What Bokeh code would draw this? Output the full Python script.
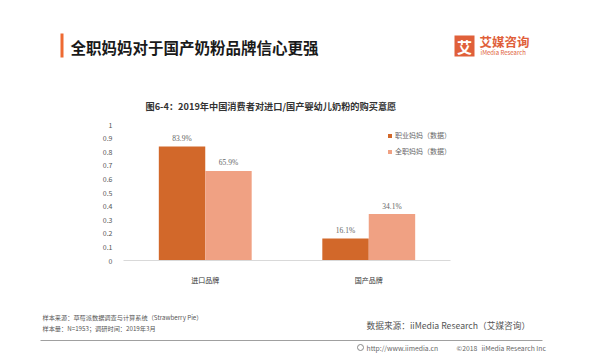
from bokeh.plotting import figure
from bokeh.models import (ColumnDataSource, Label, LabelSet, Legend, LegendItem,
                          Range1d, FixedTicker)
from bokeh.embed import file_html
from bokeh.resources import INLINE

# ---------------- data ----------------
categories = ["进口品牌", "国产品牌"]
series_names = ["职业妈妈（数据）", "全职妈妈（数据）"]
working_moms = [0.839, 0.161]
fulltime_moms = [0.659, 0.341]
y_ticks = [0, 0.1, 0.2, 0.3, 0.4, 0.5, 0.6, 0.7, 0.8, 0.9, 1]
y_tick_labels = ["0", "0.1", "0.2", "0.3", "0.4", "0.5", "0.6", "0.7", "0.8", "0.9", "1"]

title_text = "全职妈妈对于国产奶粉品牌信心更强"
chart_title = "图6-4：2019年中国消费者对进口/国产婴幼儿奶粉的购买意愿"
note1 = "样本来源：草莓派数据调查与计算系统（Strawberry  Pie）"
note2 = "样本量：N=1953；调研时间：2019年3月"
source_text = "数据来源：iiMedia Research（艾媒咨询）"
url_parts = ["http://www.iimedia.cn", "©2018", "iiMedia Research Inc"]

FONT = "Noto Sans CJK SC"
DARK = "#D2682A"
LIGHT = "#F0A183"
ORANGE = "#E0603A"

W = 584
H_HEAD, H_CHART, H_FOOT = 115, 175, 64
Y0_CHART = H_HEAD
Y0_FOOT = H_HEAD + H_CHART
FL, FR, FT, FB = 123, 450, 124, 260   # chart frame, in picture px


def deco_fig(height, y0):
    f = figure(width=W, height=height, x_range=Range1d(0, W),
               y_range=Range1d(y0 + height, y0), output_backend="svg",
               toolbar_location=None, x_axis_location=None, y_axis_location=None,
               min_border=0, min_border_left=0, min_border_right=0,
               min_border_top=0, min_border_bottom=0)
    f.outline_line_color = None
    f.grid.visible = False
    f.background_fill_color = "white"
    f.border_fill_color = "white"
    return f


def lab(f, text, x, y, size, color="#333333", bold=False, align="left"):
    f.add_layout(Label(x=x, y=y, text=text, text_font=FONT,
                       text_font_size=f"{size}px", text_color=color,
                       text_font_style="bold" if bold else "normal",
                       text_align=align, text_baseline="middle"))


# ---------------- header ----------------
head = deco_fig(H_HEAD, 0)
head.quad(left=[60], right=[63], top=[33], bottom=[57], fill_color="#EE6A32", line_color=None)
lab(head, title_text, 70, 46, 15.5, "#1A1A1A", bold=True)
head.quad(left=[454], right=[474], top=[35], bottom=[56], fill_color=ORANGE, line_color=None)
lab(head, "艾", 464, 45.5, 15, "white", bold=True, align="center")
lab(head, "艾媒咨询", 479, 41, 12.5, ORANGE, bold=True)
lab(head, "iMedia Research", 480, 52, 6, ORANGE)
lab(head, chart_title, 145, 105, 9.2, "#333333", bold=True)

# ---------------- chart ----------------
p = figure(width=W, height=H_CHART, x_range=Range1d(0, len(categories)), y_range=Range1d(0, 1),
           output_backend="svg", toolbar_location=None,
           min_border_left=FL, min_border_right=W - FR,
           min_border_top=FT - Y0_CHART, min_border_bottom=Y0_FOOT - FB)
p.outline_line_color = None
p.xgrid.visible = False
p.ygrid.visible = False
p.background_fill_color = "white"
p.border_fill_color = "white"

xs = [i + 0.5 for i in range(len(categories))]
bw = 0.284
src = ColumnDataSource(dict(
    x=xs,
    xw=[x - bw / 2 for x in xs],
    xf=[x + bw / 2 for x in xs],
    w=working_moms,
    f=fulltime_moms,
    wl=[f"{v * 100:.1f}%" for v in working_moms],
    fl=[f"{v * 100:.1f}%" for v in fulltime_moms],
))

r1 = p.vbar(x="xw", top="w", width=bw, source=src, fill_color=DARK, line_color=None)
r2 = p.vbar(x="xf", top="f", width=bw, source=src, fill_color=LIGHT, line_color=None)

for xcol, ycol, tcol in (("xw", "w", "wl"), ("xf", "f", "fl")):
    p.add_layout(LabelSet(x=xcol, y=ycol, text=tcol, source=src, y_offset=8,
                          text_align="center", text_baseline="middle",
                          text_font_size="7.5px", text_color="#666666",
                          text_font=FONT))

p.yaxis.ticker = FixedTicker(ticks=y_ticks)
p.yaxis.major_label_overrides = {t: l for t, l in zip(y_ticks, y_tick_labels)}
p.yaxis.axis_line_color = None
p.yaxis.major_tick_line_color = None
p.yaxis.minor_tick_line_color = None
p.yaxis.major_label_text_font_size = "7px"
p.yaxis.major_label_text_color = "#555555"
p.yaxis.major_label_text_font = FONT
p.yaxis.major_label_standoff = 5

p.xaxis.ticker = FixedTicker(ticks=xs)
p.xaxis.major_label_overrides = {x: c for x, c in zip(xs, categories)}
p.xaxis.axis_line_color = "#D9D9D9"
p.xaxis.major_tick_line_color = None
p.xaxis.minor_tick_line_color = None
p.xaxis.major_label_text_font_size = "7px"
p.xaxis.major_label_text_color = "#333333"
p.xaxis.major_label_text_font = FONT
p.xaxis.major_label_standoff = 8

legend = Legend(items=[LegendItem(label=series_names[0], renderers=[r1]),
                       LegendItem(label=series_names[1], renderers=[r2])],
                location=(264, 104), padding=0, margin=0, spacing=6,
                glyph_width=5, glyph_height=5, label_height=10, label_standoff=3,
                label_text_font_size="7px", label_text_color="#666666",
                label_text_font=FONT, background_fill_alpha=0, border_line_color=None)
p.add_layout(legend)

# ---------------- footer ----------------
foot = deco_fig(H_FOOT, Y0_FOOT)
lab(foot, note1, 42, 317, 6.2, "#555555")
lab(foot, note2, 42, 328, 6.2, "#555555")
lab(foot, source_text, 366, 325, 8.7, "#555555")
foot.segment(x0=[40], x1=[542], y0=[340], y1=[340], line_color="#A0A0A0", line_width=1)
foot.scatter(x=[360], y=[347], size=6, marker="circle", fill_color=None,
             line_color="#888888", line_width=1)
for text, x0 in zip(url_parts, [366, 456, 481]):
    lab(foot, text, x0, 347, 6.8, "#666666")

open("out.html", "w").write(file_html([head, p, foot], INLINE))
